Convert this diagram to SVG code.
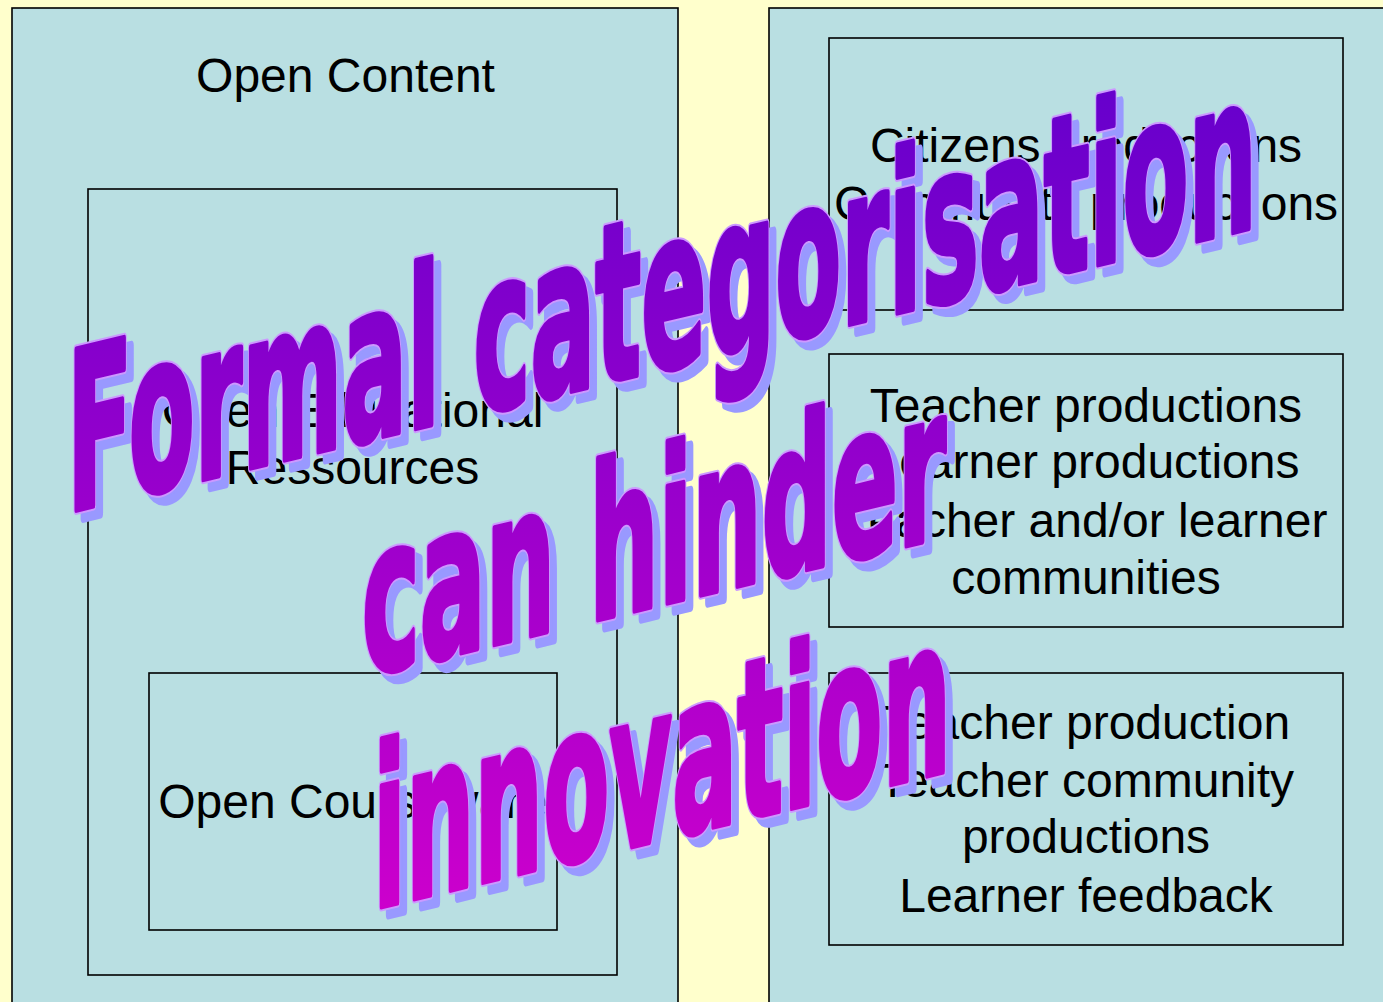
<svg xmlns="http://www.w3.org/2000/svg" width="1383" height="1002" viewBox="0 0 1383 1002">
<style>
.panel{fill:#B9DFE2;stroke:#000;stroke-width:1.6}
.box{fill:none;stroke:#000;stroke-width:1.6}
.lbl{font-family:"Liberation Sans",Arial,sans-serif;font-size:48px;fill:#000;text-anchor:middle}
.wa{font-family:"DejaVu Sans",sans-serif;font-weight:bold;font-size:220px;stroke-linejoin:round}
.was{fill:#9999FF;stroke:#9999FF;stroke-width:10}
.wao{fill:#CC99FF;stroke:#CC99FF;stroke-width:10}
.waf{fill:url(#waGrad);stroke:url(#waGrad);stroke-width:6}
</style>
<defs>
<linearGradient id="waGrad" gradientUnits="userSpaceOnUse" x1="0" y1="70" x2="0" y2="910" gradientTransform="skewY(13.5)">
<stop offset="0" stop-color="#6400CC"/>
<stop offset="1" stop-color="#CC00CC"/>
</linearGradient>
<g id="waText">
<text x="67" y="528" textLength="1190" lengthAdjust="spacingAndGlyphs">Formal categorisation</text>
<text x="362" y="763" textLength="584" lengthAdjust="spacingAndGlyphs" font-size="212">can hinder</text>
<text x="373" y="998" textLength="578" lengthAdjust="spacingAndGlyphs">innovation</text>
</g>
</defs>
<rect width="1383" height="1002" fill="#FFFFCC"/>
<g id="open-content">
<rect class="panel" x="12" y="8" width="666" height="1010"/>
<text class="lbl" x="345.5" y="92">Open Content</text>
</g>
<g id="oer">
<rect class="box" x="88" y="189" width="529" height="786"/>
<text class="lbl" x="352.5" y="427">Open Educational</text>
<text class="lbl" x="352.5" y="484">Ressources</text>
</g>
<g id="ocw">
<rect class="box" x="149" y="673" width="408" height="257"/>
<text class="lbl" x="353" y="818">Open Courseware</text>
</g>
<g id="right-panel">
<rect class="panel" x="769" y="8" width="700" height="1010"/>
</g>
<g id="citizens">
<rect class="box" x="829" y="38" width="514" height="272"/>
<text class="lbl" x="1086" y="162">Citizens productions</text>
<text class="lbl" x="1086" y="220">Community productions</text>
</g>
<g id="teacher-learner">
<rect class="box" x="829" y="354" width="514" height="273"/>
<text class="lbl" x="1086" y="422">Teacher productions</text>
<text class="lbl" x="1086" y="478">Learner productions</text>
<text class="lbl" x="1086" y="537">Teacher and/or learner</text>
<text class="lbl" x="1086" y="594">communities</text>
</g>
<g id="teacher">
<rect class="box" x="829" y="673" width="514" height="272"/>
<text class="lbl" x="1086" y="739">Teacher production</text>
<text class="lbl" x="1086" y="797">Teacher community</text>
<text class="lbl" x="1086" y="853">productions</text>
<text class="lbl" x="1086" y="912">Learner feedback</text>
</g>
<g id="connectors"/>
<g id="wordart">
<g transform="translate(7,8) skewY(-13.5)" class="wa was"><use href="#waText"/></g>
<g transform="skewY(-13.5)" class="wa wao"><use href="#waText"/></g>
<g transform="skewY(-13.5)" class="wa waf"><use href="#waText"/></g>
</g>
</svg>
